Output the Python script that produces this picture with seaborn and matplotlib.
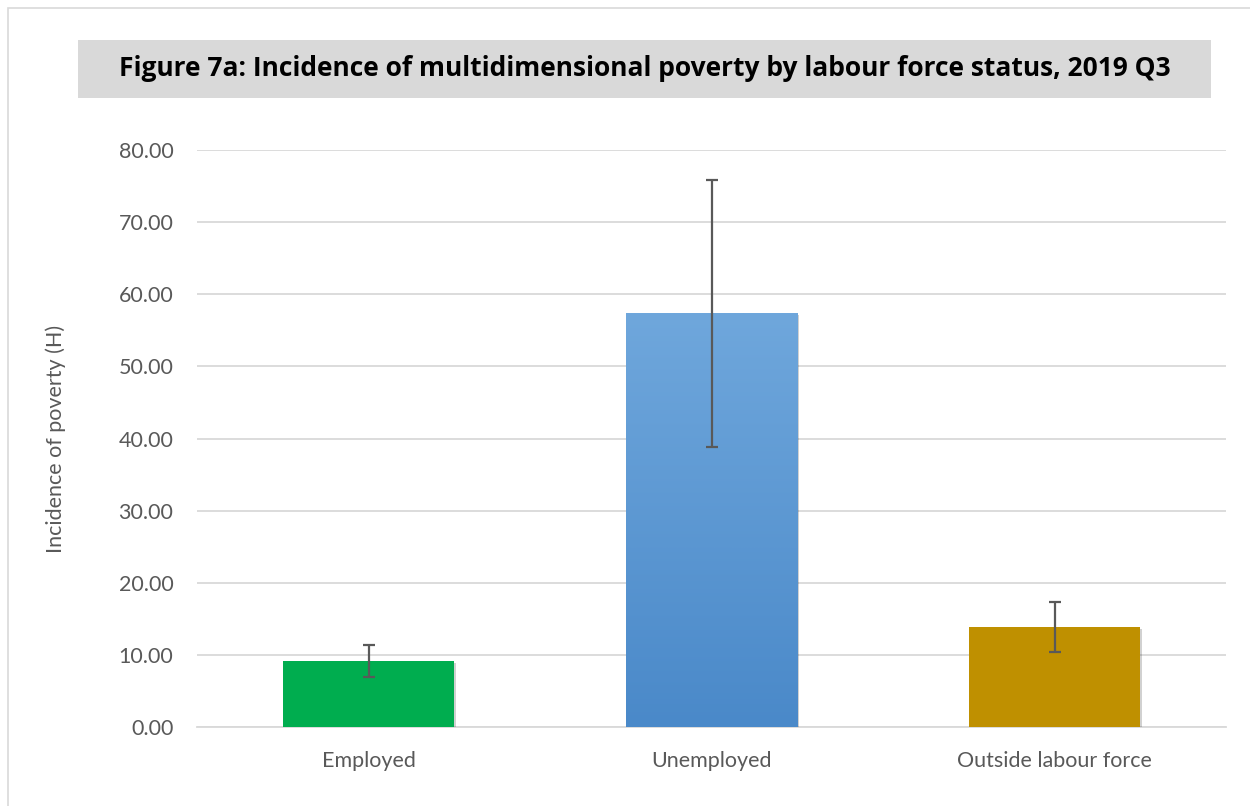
"""Figure 7a: incidence of multidimensional poverty by labour force status."""

import matplotlib
matplotlib.use("Agg")
import matplotlib.patheffects as pe
import matplotlib.pyplot as plt
import numpy as np
import pandas as pd
import seaborn as sns
from matplotlib.colors import LinearSegmentedColormap
from matplotlib.patches import Rectangle

CATEGORIES = ["Employed", "Unemployed", "Outside labour force"]
INCIDENCE = [9.15, 57.35, 13.86]
CI_LOWER = [6.93, 38.86, 10.40]
CI_UPPER = [11.33, 75.84, 17.29]
BAR_COLORS = ["#00ad4f", "#5b9bd5", "#bf9000"]
Y_TICKS = [0, 10, 20, 30, 40, 50, 60, 70, 80]

TITLE = "Figure 7a: Incidence of multidimensional poverty by labour force status, 2019 Q3"
Y_LABEL = "Incidence of poverty (H)"

sns.set_theme(style="white")
plt.rcParams["font.family"] = ["Lato", "DejaVu Sans"]

df = pd.DataFrame({"status": CATEGORIES, "H": INCIDENCE})

fig = plt.figure(figsize=(12.5, 8.06), dpi=100)
ax = fig.add_axes([0.1576, 0.098, 0.8232, 0.7159])

sns.barplot(
    data=df, x="status", y="H", hue="status", palette=BAR_COLORS,
    width=0.5, saturation=1, legend=False, ax=ax, zorder=3,
)

shadow = [pe.SimplePatchShadow(offset=(1.5, -1.5), shadow_rgbFace="#000000", alpha=0.18), pe.Normal()]
for patch in ax.patches:
    patch.set_linewidth(0)
    patch.set_path_effects(shadow)

# gradient fill on the unemployed bar
bar = ax.patches[1]
x0, w, h = bar.get_x(), bar.get_width(), bar.get_height()
cmap = LinearSegmentedColormap.from_list("blue", ["#4a89c9", "#6fa7dc"])
grad = np.linspace(0, 1, 256).reshape(-1, 1)
img = ax.imshow(grad, cmap=cmap, aspect="auto", origin="lower",
                extent=[x0, x0 + w, 0, h], zorder=3.5)
img.set_clip_path(bar)

pos = np.arange(len(CATEGORIES))
vals = np.array(INCIDENCE)
yerr = [vals - np.array(CI_LOWER), np.array(CI_UPPER) - vals]
ax.errorbar(pos, vals, yerr=yerr, fmt="none", ecolor="#595959",
            elinewidth=1.6, capsize=4.5, capthick=1.6, zorder=5)

ax.set_xlim(-0.5, 2.5)
ax.set_ylim(0, 80)
ax.set_yticks(Y_TICKS)
ax.set_yticklabels([f"{t:.2f}" for t in Y_TICKS])
ax.yaxis.grid(True, color="#d9d9d9", linewidth=1.3, zorder=0)
ax.set_axisbelow(True)
for side in ["top", "right", "left"]:
    ax.spines[side].set_visible(False)
ax.spines["bottom"].set_color("#d9d9d9")
ax.spines["bottom"].set_linewidth(1.3)
ax.tick_params(axis="both", length=0, labelsize=15.5, colors="#595959")
ax.tick_params(axis="y", pad=17)
ax.tick_params(axis="x", pad=17)
ax.set_xlabel("")
ax.set_ylabel(Y_LABEL, fontsize=15.5, color="#595959", labelpad=38)

# title box
fig.patches.append(Rectangle((78 / 1250, 1 - 98 / 806), (1211 - 78) / 1250, 58 / 806,
                             transform=fig.transFigure, facecolor="#d9d9d9",
                             edgecolor="none", zorder=0))
fig.text((78 + 1211) / 2 / 1250, 1 - 69 / 806, TITLE, ha="center", va="center",
         fontsize=19, fontweight="bold", color="#000000",
         family=["Open Sans", "DejaVu Sans"])

# outer frame
fig.patches.append(Rectangle((8 / 1250, -0.01), 1.2, 1 - 8 / 806 + 0.01,
                             transform=fig.transFigure, facecolor="none",
                             edgecolor="#d9d9d9", linewidth=1.2))

fig.savefig("out.png", dpi=100)
